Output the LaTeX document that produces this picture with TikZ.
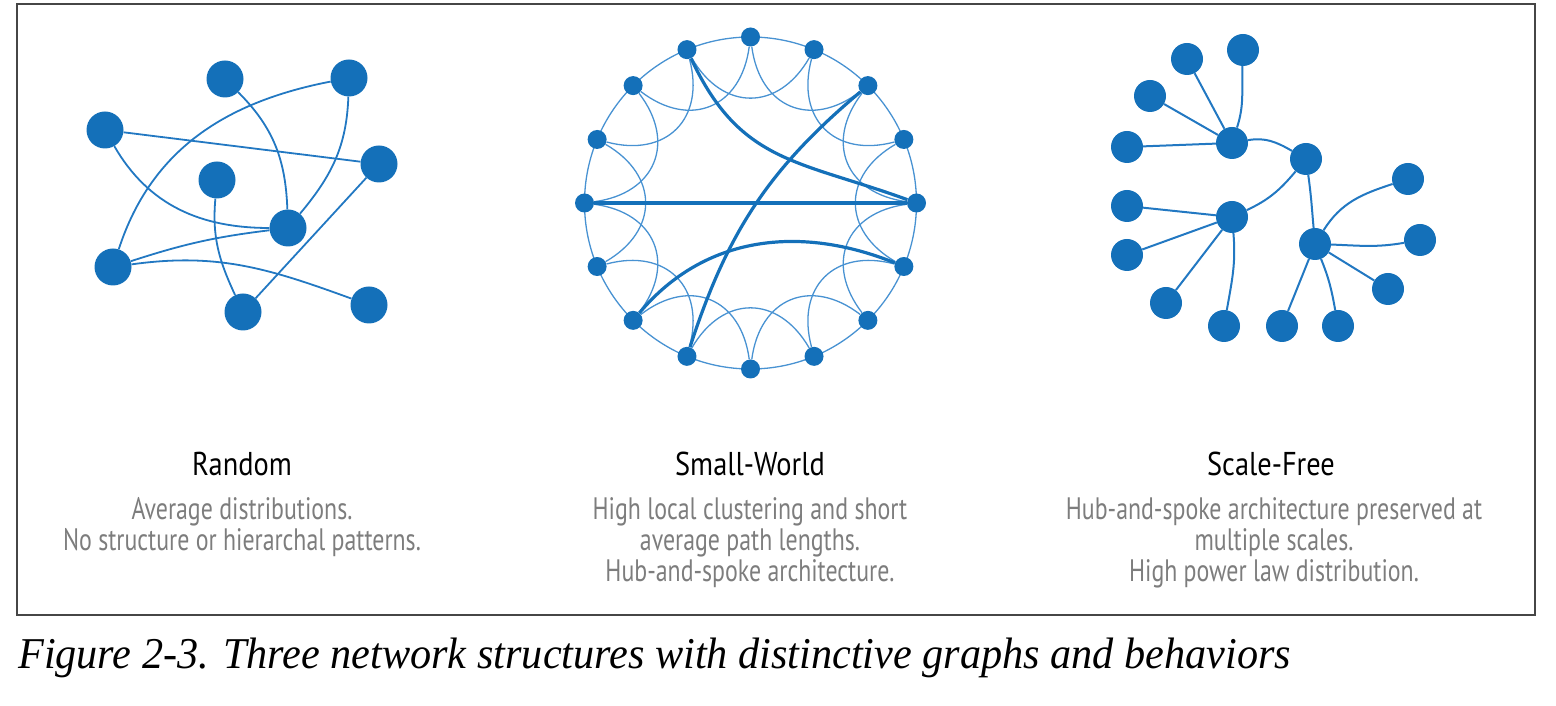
\documentclass[tikz,border=0pt]{standalone}
\usepackage{fontspec}
\newfontfamily\condf[FakeStretch=0.77]{PT Sans}
\newfontfamily\condt[FakeStretch=0.86]{PT Sans}
\newfontfamily\capf[FakeStretch=0.96]{Liberation Serif}
\definecolor{nodeblue}{RGB}{20,112,185}
\definecolor{edgeblue}{RGB}{34,120,194}
\definecolor{ringblue}{RGB}{72,146,210}
\definecolor{bodygray}{RGB}{125,125,125}
\definecolor{framegray}{RGB}{70,70,70}
\tikzset{
  rnode/.style={circle, fill=nodeblue, minimum size=37pt, inner sep=0pt},
  swnode/.style={circle, fill=nodeblue, minimum size=19pt, inner sep=0pt},
  sfnode/.style={circle, fill=nodeblue, minimum size=32pt, inner sep=0pt},
  redge/.style={draw=edgeblue, line width=1.8pt},
  swthin/.style={draw=ringblue, line width=1.3pt},
  swthick/.style={draw=nodeblue, line width=3.2pt},
  sfedge/.style={draw=edgeblue, line width=2pt},
  titletext/.style={font=\condt\fontsize{33}{36}\selectfont, text=black, anchor=base, inner sep=0pt},
  bodytext/.style={font=\condf\fontsize{31}{34}\selectfont, text=bodygray, anchor=base, inner sep=0pt},
  captext/.style={font=\capf\itshape\fontsize{44}{46}\selectfont, text=black, anchor=base west, inner sep=0pt},
}
\begin{document}
\begin{tikzpicture}[x=1pt,y=1pt]
\useasboundingbox (0,0) rectangle (1556,706);
\draw[framegray, line width=1.4pt] (17,702) rectangle (1535,91);

% ---------------- Random ----------------
\node[rnode] (rA) at (225,627) {};
\node[rnode] (rB) at (349,628) {};
\node[rnode] (rC) at (105,576) {};
\node[rnode] (rD) at (379,542) {};
\node[rnode] (rE) at (217,526) {};
\node[rnode] (rF) at (288,478) {};
\node[rnode] (rG) at (113,439) {};
\node[rnode] (rH) at (243,394) {};
\node[rnode] (rI) at (369,401) {};
\draw[redge] (rA) to[out=-45,in=92] (rF);
\draw[redge] (rB) to[out=-92,in=50] (rF);
\draw[redge] (rB) to[out=191,in=72] (rG);
\draw[redge] (rC) -- (rD);
\draw[redge] (rC) to[out=-60,in=180] (rF);
\draw[redge] (rG) to[out=18,in=187] (rF);
\draw[redge] (rG) to[out=8,in=160] (rI);
\draw[redge] (rE) to[out=-95,in=115] (rH);
\draw[redge] (rD) -- (rH);

% ---------------- Small-World ----------------
\draw[swthin] (750.5,503) circle[radius=166];
\foreach \k in {0,...,15}{
  \node[swnode] (n\k) at ([shift={({22.5*\k}:166)}]750.5,503) {};
}
\foreach \k in {0,...,15}{
  \pgfmathtruncatemacro{\j}{mod(\k+2,16)}
  \draw[swthin] (n\k) to[bend left=60, looseness=1.35] (n\j);
}
\draw[swthick] (n5) to[out=-65,in=160,looseness=1.15] (n0);
\draw[swthick] (n8) -- (n0);
\draw[swthick] (n2) to[out=220,in=72] (n11);
\draw[swthick] (n10) to[out=50,in=158] (n15);

% ---------------- Scale-Free ----------------
\node[sfnode] (h1) at (1232,563) {};
\node[sfnode] (h2) at (1306,547) {};
\node[sfnode] (h3) at (1232,489) {};
\node[sfnode] (h4) at (1315,462) {};
\node[sfnode] (l1) at (1187,647) {};
\node[sfnode] (l2) at (1243,656) {};
\node[sfnode] (l3) at (1150,610) {};
\node[sfnode] (l4) at (1127,559) {};
\node[sfnode] (l5) at (1127,500) {};
\node[sfnode] (l6) at (1127,451) {};
\node[sfnode] (l7) at (1166,403) {};
\node[sfnode] (l8) at (1224,380) {};
\node[sfnode] (l9) at (1282,380) {};
\node[sfnode] (l10) at (1338,380) {};
\node[sfnode] (l11) at (1388,417) {};
\node[sfnode] (l12) at (1420,466) {};
\node[sfnode] (l13) at (1408,527) {};
\draw[sfedge] (h1) -- (l1);
\draw[sfedge] (l2) to[out=-92,in=72] (h1);
\draw[sfedge] (h1) -- (l3);
\draw[sfedge] (h1) -- (l4);
\draw[sfedge] (h1) to[out=10,in=150] (h2);
\draw[sfedge] (h2) to[out=230,in=25] (h3);
\draw[sfedge] (h2) to[out=-82,in=95] (h4);
\draw[sfedge] (h3) -- (l5);
\draw[sfedge] (h3) -- (l6);
\draw[sfedge] (h3) -- (l7);
\draw[sfedge] (h3) to[out=-85,in=80] (l8);
\draw[sfedge] (h4) to[out=58,in=198] (l13);
\draw[sfedge] (h4) to[out=-2,in=190] (l12);
\draw[sfedge] (h4) -- (l11);
\draw[sfedge] (h4) to[out=-68,in=100] (l10);
\draw[sfedge] (h4) -- (l9);

% ---------------- Texts ----------------
\node[titletext] (t1) at (242,230) {Random};
\node[bodytext] (b11) at (242,186) {Average distributions.};
\node[bodytext] (b12) at (242,155) {No structure or hierarchal patterns.};

\node[titletext] (t2) at (750,230) {Small-World};
\node[bodytext] (b21) at (750,186) {High local clustering and short};
\node[bodytext] (b22) at (750,155) {average path lengths.};
\node[bodytext] (b23) at (750,124) {Hub-and-spoke architecture.};

\node[titletext] (t3) at (1271,230) {Scale-Free};
\node[bodytext] (b31) at (1274,186) {Hub-and-spoke architecture preserved at};
\node[bodytext] (b32) at (1274,155) {multiple scales.};
\node[bodytext] (b33) at (1274,124) {High power law distribution.};

\node[captext] (cap) at (18,37) {Figure 2-3. Three network structures with distinctive graphs and behaviors};
\end{tikzpicture}
\end{document}
